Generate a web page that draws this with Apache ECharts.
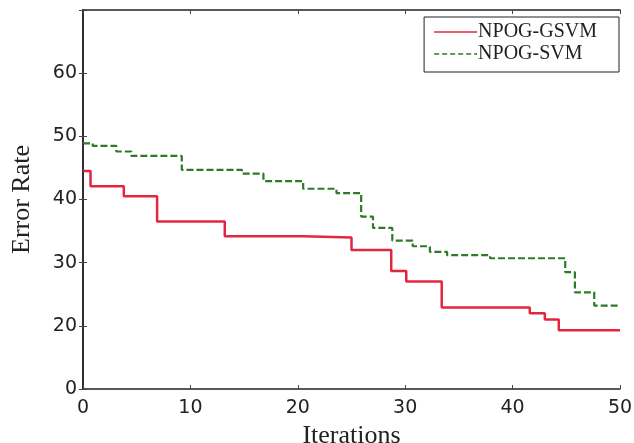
<!DOCTYPE html>
<html>
<head>
<meta charset="utf-8">
<script src="https://cdn.jsdelivr.net/npm/echarts@6/dist/echarts.min.js"></script>
<style>
html,body{margin:0;padding:0;background:#fff;}
#chart{width:634px;height:443px;}
</style>
</head>
<body>
<div id="chart"></div>
<script>
// Step breakpoints [iteration, error rate]
const gsvmX = [0, 0.7, 3.8, 6.9, 13.2, 20.5, 25.0, 28.7, 30.1, 33.4, 41.6, 43.0, 44.3, 50];
const gsvmY = [44.5, 42.1, 40.5, 36.5, 34.2, 34.0, 32.0, 28.7, 27.0, 22.9, 22.0, 21.0, 19.3, 19.3];
const svmX = [0, 0.9, 3.1, 4.5, 9.2, 14.8, 16.8, 20.5, 23.6, 25.9, 27.0, 28.8, 30.7, 32.3, 33.9, 37.9, 44.9, 45.8, 47.6, 50];
const svmY = [48.9, 48.5, 47.6, 46.9, 44.7, 44.1, 42.9, 41.7, 41.0, 37.3, 35.5, 33.5, 32.6, 31.7, 31.2, 30.7, 28.5, 25.3, 23.2, 23.2];
const seriesNames = ['NPOG-GSVM', 'NPOG-SVM'];
const xTicks = [0, 10, 20, 30, 40, 50];
const yTickValues = [10, 20, 30, 40, 50, 60, 70];
const yTickLabels = ['0', '20', '30', '40', '50', '60', ''];

const zip = (xs, ys) => xs.map((x, i) => [x, ys[i]]);
const chart = echarts.init(document.getElementById('chart'));
const tickFont = {fontFamily: 'DejaVu Sans', fontSize: 19, color: '#222'};
const titleFont = {fontFamily: 'Liberation Serif', fontSize: 26, color: '#222'};
const solidIcon = 'path://M0,0h43v1.6h-43z';
const dashedIcon = 'path://M0,0h5v1.6h-5zM8,0h5v1.6h-5zM16,0h5v1.6h-5zM24,0h5v1.6h-5zM32,0h5v1.6h-5zM40,0h3v1.6h-3z';
chart.setOption({
  animation: false,
  backgroundColor: '#fff',
  grid: {left: 83, right: 14, top: 10, bottom: 54, outerBoundsMode: 'none', containLabel: false},
  legend: {
    orient: 'vertical', right: 15, top: 17,
    data: [{name: seriesNames[0], icon: solidIcon}, {name: seriesNames[1], icon: dashedIcon}],
    borderColor: '#222', borderWidth: 1, borderRadius: 0,
    padding: [5, 22, 8, 10],
    itemWidth: 43, itemHeight: 20, itemGap: 2,
    textStyle: {fontFamily: 'Liberation Serif', fontSize: 20, color: '#222', padding: [0, 0, 0, -4]},
    backgroundColor: '#fff'
  },
  xAxis: [{
    type: 'value', min: 0, max: 50, interval: 10,
    name: 'Iterations', nameLocation: 'middle', nameGap: 23, nameTextStyle: titleFont,
    axisLine: {show: true, lineStyle: {color: '#222', width: 1.5}},
    axisTick: {inside: true, length: 4, lineStyle: {color: '#444'}},
    axisLabel: Object.assign({margin: 10, formatter: v => xTicks.includes(v) ? String(v) : ''}, tickFont),
    splitLine: {show: false}
  }, {
    type: 'value', min: 0, max: 50, interval: 10, position: 'top',
    axisLine: {show: true, lineStyle: {color: '#222', width: 1.5}},
    axisTick: {inside: true, length: 4, lineStyle: {color: '#444'}},
    axisLabel: {show: false}, splitLine: {show: false}
  }],
  yAxis: [{
    type: 'value', min: 10, max: 70, interval: 10,
    name: 'Error Rate', nameLocation: 'middle', nameGap: 48, nameTextStyle: titleFont,
    axisLine: {show: true, lineStyle: {color: '#222', width: 1.5}},
    axisTick: {inside: true, length: 4, lineStyle: {color: '#444'}},
    axisLabel: Object.assign({margin: 6, formatter: v => {
      const i = yTickValues.indexOf(v); return i >= 0 ? yTickLabels[i] : '';
    }}, tickFont),
    splitLine: {show: false}
  }, {
    type: 'value', min: 10, max: 70, interval: 10, position: 'right',
    axisLine: {show: true, lineStyle: {color: '#222', width: 1.5}},
    axisTick: {inside: true, length: 4, lineStyle: {color: '#444'}},
    axisLabel: {show: false}, splitLine: {show: false}
  }],
  series: [{
    name: seriesNames[0], type: 'line', step: 'end', symbol: 'none',
    data: zip(gsvmX, gsvmY),
    itemStyle: {color: '#e32640'},
    lineStyle: {color: '#e32640', width: 2.5}
  }, {
    name: seriesNames[1], type: 'line', step: 'end', symbol: 'none',
    data: zip(svmX, svmY),
    itemStyle: {color: '#2f7a28'},
    lineStyle: {color: '#2f7a28', width: 2.2, type: [7, 3]}
  }]
});
</script>
</body>
</html>
